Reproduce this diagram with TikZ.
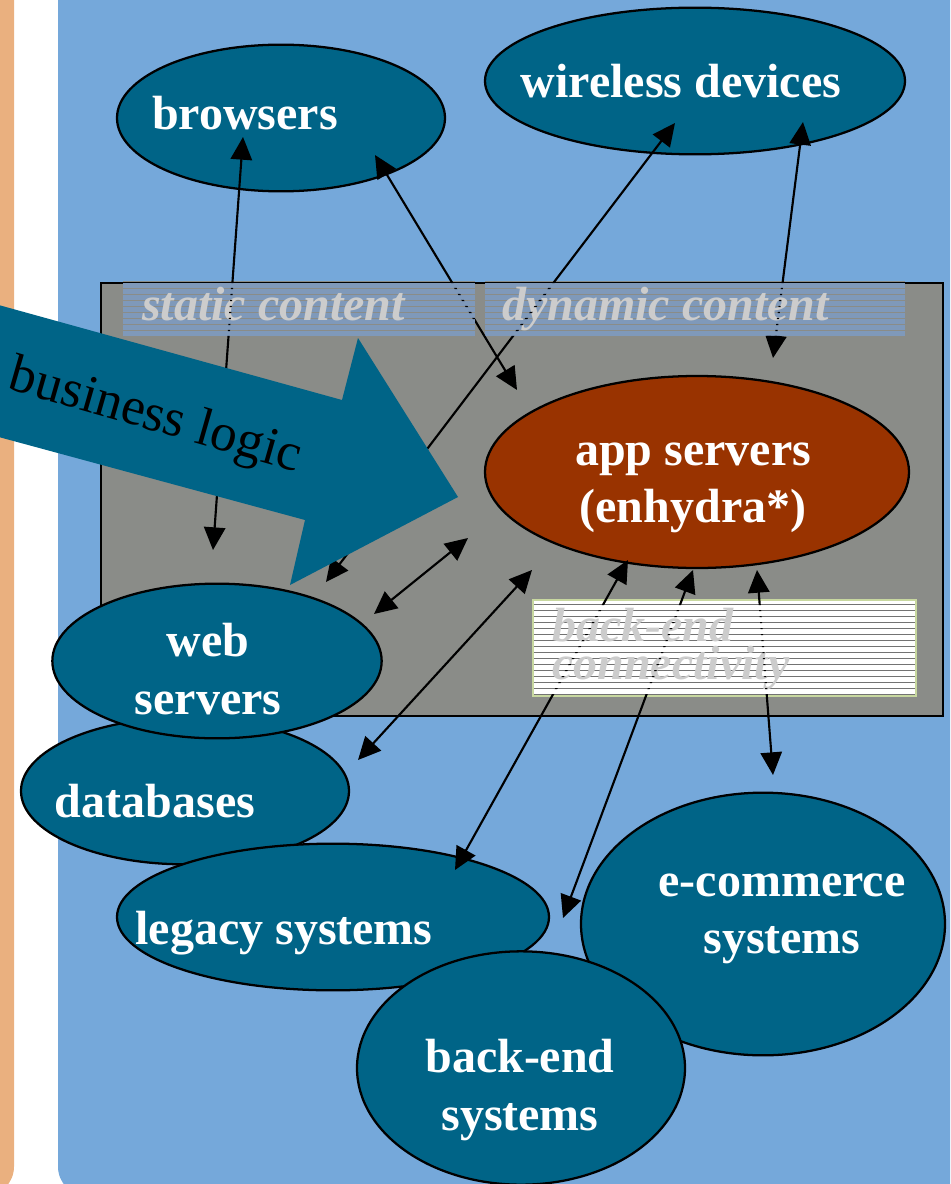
\documentclass[tikz,border=0pt]{standalone}
\usepackage{fontspec}
\setmainfont{Liberation Serif}
\usetikzlibrary{arrows.meta,shapes.geometric}
\definecolor{bluebg}{HTML}{75A8DA}
\definecolor{orangebar}{HTML}{EAB07F}
\definecolor{greybox}{HTML}{8A8C88}
\definecolor{teal}{HTML}{006487}
\definecolor{brownapp}{HTML}{993300}
\definecolor{stripeblue}{HTML}{7F99BA}
\definecolor{stripeedge}{HTML}{C8D8A0}
\definecolor{pale}{HTML}{CCCCCC}
\tikzset{
  blob/.style={ellipse,draw=black,line width=1.7pt,fill=teal,inner sep=0pt},
  lbl/.style={text=white,font=\fontsize{36}{43}\selectfont\bfseries,align=center,inner sep=0pt},
  faint/.style={text=pale,font=\fontsize{36}{28}\selectfont\bfseries\itshape,align=left,inner sep=0pt},
  conn/.style={{Triangle[length=17pt,width=16pt]}-{Triangle[length=17pt,width=16pt]},line width=1.6pt,black}
}
\begin{document}
\begin{tikzpicture}[x=0.75pt,y=-0.75pt]
\useasboundingbox (0,0) rectangle (950,1184);
\clip (0,0) rectangle (950,1184);
% background panels
\fill[orangebar,rounded corners=22pt] (-60,-60) rectangle (14,1196);
\fill[bluebg,rounded corners=22pt] (58,-60) rectangle (1010,1196);
% striped label strips: the parts that stick out above the box
\fill[greybox] (123,281) rectangle (475,335);
\fill[greybox] (485,281) rectangle (905,335);
\draw[black,line width=1.7pt,fill=greybox] (101,283) rectangle (943,716);
\fill[stripeedge] (532,599) rectangle (917,697);
\fill[white] (534,601) rectangle (915,695);
\foreach \y in {283,289,...,331}{
  \fill[stripeblue] (123,\y) rectangle (475,\y+4.8);
  \fill[stripeblue] (485,\y) rectangle (905,\y+4.8);
}
\foreach \y in {604,610,...,694}{
  \fill[black!55] (534,\y) rectangle (915,\y+1);
}
% ellipses
\node[blob,minimum width=246pt,minimum height=110pt] (browsers) at (281,118) {};
\node[blob,minimum width=315pt,minimum height=110pt] (wireless) at (695,81) {};
\node[blob,fill=brownapp,minimum width=318pt,minimum height=144pt] (app) at (697,472) {};
\node[blob,minimum width=246pt,minimum height=110pt] (db) at (185,791) {};
\node[blob,minimum width=247pt,minimum height=116pt] (web) at (217,661) {};
\node[blob,minimum width=324pt,minimum height=110pt] (legacy) at (333,917) {};
\node[blob,minimum width=273pt,minimum height=197pt] (ecom) at (763,924) {};
\node[blob,minimum width=246pt,minimum height=175pt] (backend) at (521,1068) {};
% faint strip labels
\node[faint,anchor=base west] (tstatic) at (142,320) {static content};
\node[faint,anchor=base west] (tdynamic) at (502,320) {dynamic content};
\node[faint,anchor=west] (tback) at (552,649) {back-end\\connectivity};
% connector ends
\coordinate (b1) at (243,137); \coordinate (w1) at (213,550);
\coordinate (b2) at (375,155); \coordinate (a2) at (517,390);
\coordinate (r3) at (675,123); \coordinate (w3) at (326,582);
\coordinate (r4) at (803,122); \coordinate (a4) at (773,358);
\coordinate (a5) at (468,538); \coordinate (w5) at (374,614);
\coordinate (a6) at (532,570); \coordinate (d6) at (358,760);
\coordinate (a7) at (628,560); \coordinate (l7) at (455,870);
\coordinate (a8) at (693,570); \coordinate (k8) at (563,918);
\coordinate (a9) at (757,570); \coordinate (e9) at (773,775);
% connectors: hidden by the stripes, showing in the gaps between them
\begin{scope}[even odd rule]
\clip (0,0) rectangle (950,1184)
  foreach \y in {283,289,...,331}{ (123,\y) rectangle (475,\y+4.8) (485,\y) rectangle (905,\y+4.8) }
  foreach \y in {605,611,...,689}{ (534,\y) rectangle (915,\y+5) };
\draw[conn] (b1) -- (w1);
\draw[conn] (b2) -- (a2);
\draw[conn] (r3) -- (w3);
\draw[conn] (r4) -- (a4);
\draw[conn] (a5) -- (w5);
\draw[conn] (a6) -- (d6);
\draw[conn] (a7) -- (l7);
\draw[conn] (a8) -- (k8);
\draw[conn] (a9) -- (e9);
\end{scope}
% big arrow
\fill[teal] (-5,304) -- (342,400) -- (358,338) -- (458,497) -- (290,585) -- (305,520) -- (-5,436) -- cycle;
\node[rotate=-16,font=\fontsize{40}{48}\selectfont,inner sep=0pt] (tlogic) at (155,418) {business logic};
% labels
\node[lbl] (tbrowsers) at (245,113) {browsers};
\node[lbl] (twireless) at (681,81) {wireless devices};
\node[lbl] (tapp) at (693,488) {app servers\\(enhydra*)};
\node[lbl] (tweb) at (208,669) {web\\servers};
\node[lbl] (tdb) at (155,801) {databases};
\node[lbl] (tlegacy) at (284,933) {legacy systems};
\node[lbl] (tecom) at (782,919) {e-commerce\\systems};
\node[lbl] (tbackend) at (520,1090) {back-end\\systems};
\end{tikzpicture}
\end{document}
